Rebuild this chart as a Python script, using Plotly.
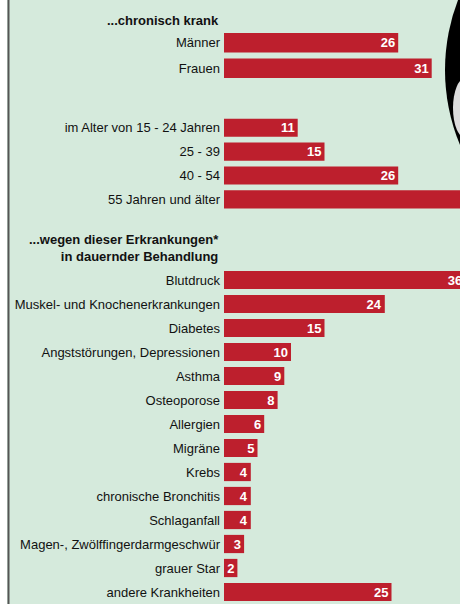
import plotly.graph_objects as go

# ---------------- data ----------------
sex_labels = ["Männer", "Frauen"]
sex_values = [26, 31]

age_labels = ["im Alter von 15 - 24 Jahren", "25 - 39", "40 - 54", "55 Jahren und älter"]
age_values = [11, 15, 26, 42]

disease_labels = [
    "Blutdruck", "Muskel- und Knochenerkrankungen", "Diabetes",
    "Angststörungen, Depressionen", "Asthma", "Osteoporose", "Allergien",
    "Migräne", "Krebs", "chronische Bronchitis", "Schlaganfall",
    "Magen-, Zwölffingerdarmgeschwür", "grauer Star", "andere Krankheiten",
]
disease_values = [36, 24, 15, 10, 9, 8, 6, 5, 4, 4, 4, 3, 2, 25]

header_1 = "...chronisch krank"
header_2 = "...wegen dieser Erkrankungen*<br>in dauernder Behandlung"

# ---------------- style ----------------
W, H = 460, 604
BG = "#d5eadc"
BAR = "#bd1f2d"
FONT = "Liberation Sans, Arial, sans-serif"
LABEL_SIZE = 13
X_LEFT = 224          # px where bars start
PX_PER_UNIT = 6.7
X_MAX = (W - X_LEFT) / PX_PER_UNIT


def py(px):
    return 1 - px / H


groups = [
    (sex_labels, sex_values, (30.0, 81.1)),
    (age_labels, age_values, (115.8, 211.3)),
    (disease_labels, disease_values, (268.0, 604.0)),
]

fig = go.Figure()
layout = dict(
    width=W, height=H, autosize=False,
    margin=dict(l=0, r=0, t=0, b=0, pad=0),
    paper_bgcolor=BG, plot_bgcolor=BG,
    showlegend=False,
    font=dict(family=FONT, size=LABEL_SIZE, color="#111111"),
)

for i, (labels, values, (top, bot)) in enumerate(groups, start=1):
    suffix = "" if i == 1 else str(i)
    fig.add_trace(go.Bar(
        x=values, y=labels, orientation="h",
        marker=dict(color=BAR, line=dict(width=0)),
        width=0.76,
        text=[str(v) for v in values],
        textposition="inside", insidetextanchor="end",
        textangle=0, constraintext="none",
        insidetextfont=dict(family=FONT, size=13, color="white", weight="bold"),
        cliponaxis=True,
        xaxis="x" + suffix, yaxis="y" + suffix,
        hoverinfo="skip",
    ))
    n = len(labels)
    layout["xaxis" + suffix] = dict(
        domain=[X_LEFT / W, 1], range=[0, X_MAX],
        showgrid=False, zeroline=False, showticklabels=False, ticks="",
        showline=False, anchor="y" + suffix, fixedrange=True, automargin=False,
    )
    layout["yaxis" + suffix] = dict(
        domain=[py(bot), py(top)],
        type="category", categoryorder="array", categoryarray=labels,
        range=[n - 0.5, -0.5],
        showgrid=False, zeroline=False, showline=False, ticks="",
        ticklabelstandoff=3, automargin=False,
        tickfont=dict(family=FONT, size=LABEL_SIZE, color="#111111"),
        anchor="x" + suffix, fixedrange=True,
    )

fig.update_layout(**layout)

fig.add_annotation(
    x=221 / W, y=py(20.7), xref="paper", yref="paper",
    xanchor="right", yanchor="middle", showarrow=False,
    text="<b>" + header_1 + "</b>",
    font=dict(family=FONT, size=LABEL_SIZE, color="#111111"),
)
fig.add_annotation(
    x=221 / W, y=py(248), xref="paper", yref="paper",
    xanchor="right", yanchor="middle", showarrow=False, align="right",
    text="<b>" + header_2 + "</b>",
    font=dict(family=FONT, size=LABEL_SIZE, color="#111111"),
)

# decorative frame and graphic
fig.add_shape(type="rect", xref="paper", yref="paper", x0=0, x1=7 / W, y0=0, y1=1,
              fillcolor="white", line=dict(width=0), layer="above")
fig.add_shape(type="line", xref="paper", yref="paper", x0=8.5 / W, x1=8.5 / W, y0=0, y1=1,
              line=dict(color="#555555", width=2), layer="above")
fig.add_shape(type="circle", xref="paper", yref="paper",
              x0=(640 - 195) / W, x1=(640 + 195) / W, y0=py(70 + 195), y1=py(70 - 195),
              fillcolor="black", line=dict(width=0), layer="above")
fig.add_shape(type="circle", xref="paper", yref="paper",
              x0=453 / W, x1=478 / W, y0=py(138), y1=py(78),
              fillcolor="#dcdcdc", line=dict(width=0), layer="above")

fig.write_html(
    "out.html",
    config={"responsive": False, "displayModeBar": False},
    post_script="document.body.style.margin='0';document.body.style.padding='0';",
)
